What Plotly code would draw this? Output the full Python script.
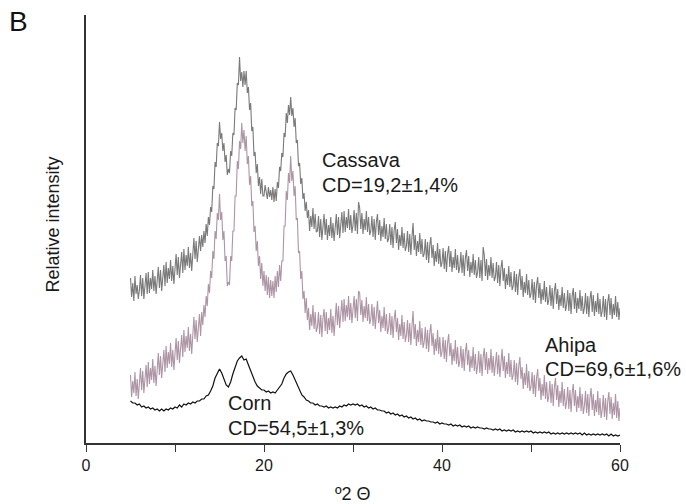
import plotly.graph_objects as go

# 2-theta start (degrees) and scan steps
x_start = 5.0
step_fine = 0.125   # cassava / ahipa
step_corn = 0.25

# Relative intensities (arbitrary units); each row = 1 degree
cassava = [
    165, 146, 160, 142, 167, 149, 158, 144,
    153, 168, 147, 165, 144, 162, 170, 149,
    171, 150, 165, 154, 173, 152, 167, 149,
    161, 176, 155, 173, 152, 170, 178, 157,
    181, 160, 175, 164, 183, 162, 177, 159,
    174, 189, 168, 186, 165, 183, 191, 170,
    194, 173, 188, 177, 196, 175, 190, 172,
    190, 205, 184, 202, 181, 199, 207, 192,
    208, 196, 212, 200, 219, 207, 226, 218,
    236, 231, 257, 254, 281, 276, 300, 297,
    321, 304, 310, 292, 300, 281, 288, 268,
    274, 270, 292, 287, 310, 308, 335, 333,
    360, 358, 386, 362, 371, 356, 372, 358,
    372, 350, 356, 333, 340, 312, 316, 287,
    291, 270, 279, 257, 266, 249, 264, 247,
    247, 258, 251, 244, 256, 246, 253, 243,
    256, 241, 254, 242, 261, 255, 276, 272,
    290, 286, 310, 306, 330, 320, 338, 328,
    346, 327, 335, 316, 325, 300, 303, 277,
    280, 259, 265, 244, 250, 232, 241, 225,
    233, 212, 227, 216, 235, 214, 229, 211,
    212, 227, 206, 224, 203, 221, 229, 208,
    224, 203, 218, 207, 226, 205, 220, 202,
    214, 229, 208, 226, 205, 223, 231, 210,
    232, 211, 226, 215, 234, 213, 228, 210,
    218, 233, 212, 230, 209, 241, 235, 214,
    230, 209, 224, 213, 232, 211, 226, 208,
    212, 227, 206, 224, 203, 221, 229, 208,
    223, 202, 217, 206, 225, 204, 219, 201,
    204, 219, 198, 216, 195, 213, 221, 200,
    214, 193, 208, 197, 216, 195, 210, 192,
    197, 212, 191, 209, 188, 206, 220, 193,
    208, 187, 202, 191, 210, 189, 204, 186,
    189, 204, 183, 201, 180, 198, 206, 185,
    198, 177, 192, 181, 200, 179, 194, 176,
    180, 195, 174, 192, 171, 189, 197, 176,
    192, 171, 186, 175, 194, 173, 188, 170,
    176, 191, 170, 188, 167, 185, 193, 172,
    187, 166, 181, 170, 189, 168, 183, 165,
    171, 186, 165, 183, 162, 196, 188, 167,
    184, 163, 178, 167, 186, 165, 180, 162,
    166, 181, 160, 178, 157, 175, 183, 162,
    175, 154, 169, 158, 177, 156, 171, 153,
    157, 172, 151, 169, 148, 166, 174, 153,
    167, 146, 161, 150, 169, 148, 163, 145,
    149, 164, 143, 161, 140, 158, 166, 145,
    160, 139, 154, 143, 162, 141, 156, 138,
    143, 158, 137, 155, 134, 152, 160, 139,
    154, 133, 148, 137, 156, 135, 150, 132,
    138, 153, 132, 150, 129, 147, 155, 134,
    151, 130, 145, 134, 153, 132, 147, 129,
    135, 150, 129, 147, 126, 144, 152, 131,
    148, 127, 142, 131, 150, 129, 144, 126,
    132, 147, 126, 144, 123, 141, 149, 128,
    145, 124, 139, 128, 147, 126, 141, 123,
    135,
]

ahipa = [
    68, 46, 62, 50, 71, 47, 64, 44,
    60, 75, 53, 72, 50, 69, 78, 56,
    81, 59, 75, 63, 84, 60, 77, 57,
    75, 90, 68, 87, 65, 84, 93, 71,
    97, 75, 91, 79, 100, 76, 93, 73,
    90, 105, 83, 102, 80, 99, 108, 86,
    113, 91, 107, 95, 116, 92, 109, 89,
    111, 126, 104, 123, 101, 120, 129, 107,
    131, 118, 138, 126, 147, 137, 159, 150,
    172, 165, 192, 184, 212, 204, 230, 223,
    249, 223, 231, 203, 212, 182, 187, 157,
    161, 158, 187, 182, 212, 212, 247, 247,
    282, 274, 302, 294, 320, 300, 313, 292,
    307, 279, 287, 258, 267, 237, 242, 211,
    217, 192, 202, 177, 187, 164, 180, 157,
    172, 152, 168, 148, 166, 145, 163, 147,
    162, 145, 167, 151, 172, 156, 178, 162,
    182, 182, 217, 217, 252, 243, 270, 260,
    287, 262, 272, 247, 257, 223, 225, 190,
    192, 164, 172, 144, 152, 130, 145, 123,
    135, 113, 129, 117, 138, 114, 131, 111,
    116, 131, 109, 128, 106, 125, 134, 112,
    131, 109, 125, 113, 134, 110, 127, 107,
    125, 140, 118, 137, 115, 134, 143, 121,
    144, 122, 138, 126, 147, 123, 140, 120,
    132, 147, 125, 144, 122, 152, 150, 128,
    143, 121, 137, 125, 146, 122, 139, 119,
    124, 139, 117, 136, 114, 133, 142, 120,
    133, 111, 127, 115, 136, 112, 129, 109,
    115, 130, 108, 127, 105, 124, 133, 111,
    125, 103, 119, 107, 128, 104, 121, 101,
    108, 123, 101, 120, 98, 117, 132, 104,
    119, 97, 113, 101, 122, 98, 115, 95,
    101, 116, 94, 113, 91, 110, 119, 97,
    110, 88, 104, 92, 113, 89, 106, 86,
    91, 106, 84, 103, 81, 100, 109, 87,
    100, 78, 94, 82, 103, 79, 96, 76,
    82, 97, 75, 94, 72, 91, 100, 78,
    93, 71, 87, 75, 96, 72, 89, 69,
    77, 92, 70, 89, 67, 86, 95, 73,
    91, 69, 85, 73, 94, 70, 87, 67,
    76, 91, 69, 88, 66, 85, 94, 72,
    87, 65, 81, 69, 90, 66, 83, 63,
    68, 83, 61, 80, 58, 77, 86, 64,
    76, 54, 70, 58, 79, 55, 72, 52,
    56, 71, 49, 68, 46, 65, 74, 52,
    65, 43, 59, 47, 68, 44, 61, 41,
    47, 62, 40, 59, 37, 56, 65, 43,
    58, 36, 52, 40, 61, 37, 54, 34,
    41, 56, 34, 53, 31, 50, 59, 37,
    53, 31, 47, 35, 56, 32, 49, 29,
    37, 52, 30, 49, 27, 46, 55, 33,
    49, 27, 43, 31, 52, 28, 45, 25,
    33, 48, 26, 45, 23, 42, 51, 29,
    46, 24, 40, 28, 49, 25, 42, 22,
    35,
]

corn = [
    42, 40, 40, 38, 39, 36, 37, 35, 36, 34, 35, 33, 34, 32, 34, 32,
    34, 33, 35, 34, 36, 35, 38, 36, 39, 38, 40, 39, 41, 40, 42, 42,
    44, 44, 47, 48, 52, 57, 65, 70, 74, 70, 64, 58, 56, 61, 69, 76,
    82, 85, 87, 83, 84, 78, 72, 66, 61, 57, 55, 53, 53, 51, 52, 50,
    51, 50, 53, 56, 59, 65, 69, 71, 72, 68, 63, 57, 52, 48, 46, 43,
    42, 40, 40, 38, 39, 37, 37, 36, 37, 35, 36, 35, 36, 35, 37, 36,
    38, 37, 39, 38, 39, 38, 39, 37, 38, 36, 37, 35, 36, 34, 35, 33,
    33, 32, 32, 30, 31, 29, 30, 28, 29, 27, 28, 26, 27, 25, 26, 24,
    25, 23, 24, 22, 23, 22, 22, 21, 21, 20, 21, 19, 20, 19, 19, 18,
    19, 17, 18, 17, 18, 16, 17, 16, 17, 15, 16, 15, 16, 15, 15, 14,
    15, 14, 14, 13, 14, 13, 14, 12, 13, 12, 13, 12, 13, 11, 12, 11,
    12, 11, 12, 11, 12, 10, 11, 10, 11, 10, 11, 10, 11, 9, 10, 9,
    10, 9, 10, 9, 10, 9, 10, 9, 10, 9, 10, 8, 10, 8, 9, 8,
    9, 8, 9, 8, 9, 8, 9, 7, 9, 7, 8, 7, 8,
]

x_tick_vals = [0, 10, 20, 30, 40, 50, 60]
x_tick_text = ["0", "", "20", "", "40", "", "60"]

labels = [
    ("Cassava", 26.3, 283), ("CD=19,2±1,4%", 26.3, 258),
    ("Ahipa", 51.4, 98), ("CD=69,6±1,6%", 51.4, 74),
    ("Corn", 15.7, 40), ("CD=54,5±1,3%", 15.7, 15),
]


def xs(values, step):
    return [x_start + step * i for i in range(len(values))]


FONT = "Liberation Sans, Arial, sans-serif"

fig = go.Figure()
fig.add_trace(go.Scatter(x=xs(cassava, step_fine), y=cassava, mode="lines",
                         line=dict(color="#7a7a7a", width=1.1), name="Cassava"))
fig.add_trace(go.Scatter(x=xs(ahipa, step_fine), y=ahipa, mode="lines",
                         line=dict(color="#ad95a5", width=1.1), name="Ahipa"))
fig.add_trace(go.Scatter(x=xs(corn, step_corn), y=corn, mode="lines",
                         line=dict(color="#111111", width=1.2), name="Corn"))

annotations = []
for text, ax, ay in labels:
    annotations.append(dict(x=ax, y=ay, xref="x", yref="y", text=text, showarrow=False,
                            xanchor="left", yanchor="middle",
                            font=dict(family=FONT, size=20, color="#1a1a1a")))
annotations += [
    dict(x=0.5, y=-0.119, xref="paper", yref="paper", text="º2 Θ", showarrow=False,
         xanchor="center", yanchor="middle", font=dict(family=FONT, size=18, color="#1a1a1a")),
    dict(x=-0.062, y=0.51, xref="paper", yref="paper", text="Relative intensity",
         showarrow=False, textangle=-90, xanchor="center", yanchor="middle",
         font=dict(family=FONT, size=18, color="#1a1a1a")),
    dict(x=-0.127, y=0.984, xref="paper", yref="paper", text="B", showarrow=False,
         xanchor="center", yanchor="middle", font=dict(family=FONT, size=28, color="#111111")),
]

fig.update_layout(
    width=686, height=504,
    margin=dict(l=86, r=66, t=15, b=61),
    paper_bgcolor="white", plot_bgcolor="white",
    showlegend=False,
    annotations=annotations,
    xaxis=dict(range=[0, 60], tickvals=x_tick_vals, ticktext=x_tick_text,
               ticks="outside", ticklen=7, tickwidth=1.3, tickcolor="#333333",
               showline=True, linecolor="#333333", linewidth=1.5,
               showgrid=False, zeroline=False,
               tickfont=dict(family=FONT, size=16, color="#1a1a1a")),
    yaxis=dict(range=[0, 428], showticklabels=False, ticks="",
               showline=True, linecolor="#333333", linewidth=1.5,
               showgrid=False, zeroline=False),
)

fig.write_html("out.html", config={"displayModeBar": False},
               post_script="document.body.style.margin='0px';")
